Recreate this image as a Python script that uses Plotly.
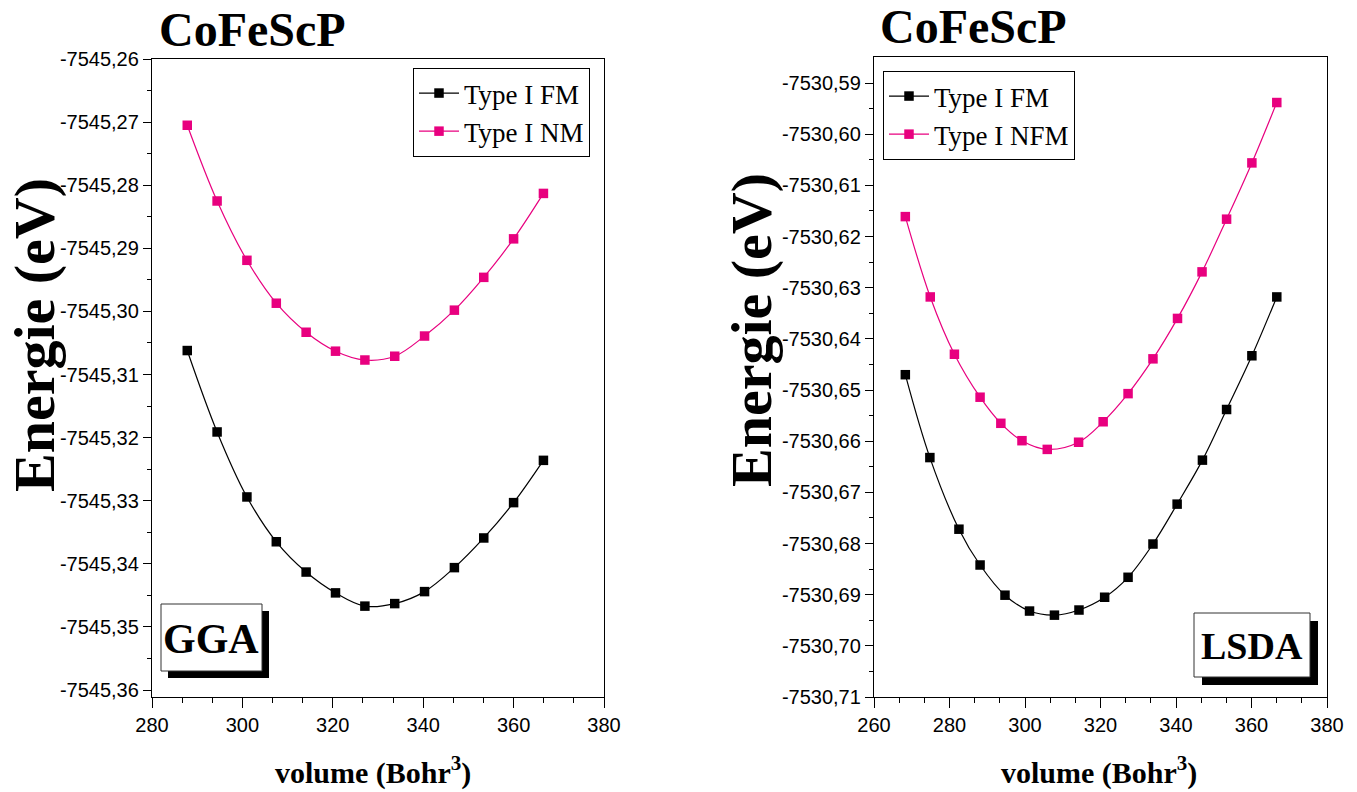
import numpy as np
import plotly.graph_objects as go

# ---------------- data ----------------
gga_volume = [287.8, 294.4, 301.0, 307.5, 314.1, 320.6, 327.1, 333.7, 340.3, 346.9, 353.4, 360.0, 366.6]
gga_fm = [-7545.3062, -7545.3191, -7545.3294, -7545.3365, -7545.3413, -7545.3446, -7545.3467,
          -7545.3463, -7545.3444, -7545.3406, -7545.3359, -7545.3303, -7545.3236]
gga_nm = [-7545.2705, -7545.2825, -7545.2919, -7545.2987, -7545.3033, -7545.3063, -7545.3077,
          -7545.3071, -7545.3039, -7545.2998, -7545.2946, -7545.2885, -7545.2813]

lsda_volume_fm = [268.3, 274.8, 282.5, 288.1, 294.7, 301.2, 307.8, 314.3, 321.1, 327.3, 333.9,
                  340.3, 347.0, 353.4, 360.1, 366.7]
lsda_fm = [-7530.6470, -7530.6632, -7530.6772, -7530.6842, -7530.6901, -7530.6932, -7530.6940,
           -7530.6930, -7530.6905, -7530.6866, -7530.6801, -7530.6723, -7530.6637, -7530.6538,
           -7530.6433, -7530.6318]
lsda_volume_nfm = [268.3, 274.9, 281.3, 288.1, 293.6, 299.2, 305.9, 314.2, 320.7, 327.3, 333.9,
                   340.4, 346.9, 353.4, 360.1, 366.7]
lsda_nfm = [-7530.6161, -7530.6318, -7530.6430, -7530.6514, -7530.6565, -7530.6599, -7530.6616,
            -7530.6602, -7530.6562, -7530.6507, -7530.6439, -7530.6360, -7530.6269, -7530.6166,
            -7530.6056, -7530.5938]

gga_yticks = [-7545.36, -7545.35, -7545.34, -7545.33, -7545.32, -7545.31, -7545.30, -7545.29,
              -7545.28, -7545.27, -7545.26]
gga_yticktext = ["-7545,36", "-7545,35", "-7545,34", "-7545,33", "-7545,32", "-7545,31",
                 "-7545,30", "-7545,29", "-7545,28", "-7545,27", "-7545,26"]
lsda_yticks = [-7530.71, -7530.70, -7530.69, -7530.68, -7530.67, -7530.66, -7530.65, -7530.64,
               -7530.63, -7530.62, -7530.61, -7530.60, -7530.59]
lsda_yticktext = ["-7530,71", "-7530,70", "-7530,69", "-7530,68", "-7530,67", "-7530,66",
                  "-7530,65", "-7530,64", "-7530,63", "-7530,62", "-7530,61", "-7530,60",
                  "-7530,59"]

# ---------------- styles ----------------
W, H = 1357, 792
BLACK = "#000000"
MAGENTA = "#E8007F"
SERIF = "Liberation Serif, Times New Roman, serif"
SANS = "Liberation Sans, Arial, sans-serif"


def px(x):
    return x / W


def py(y):
    return 1 - y / H


fig = go.Figure()


def add_series(x, y, name, color, xa, ya, legend):
    fig.add_trace(go.Scatter(
        x=x, y=y, name=name, mode="lines+markers",
        line=dict(color=color, width=1.2, shape="spline", smoothing=1.0),
        marker=dict(symbol="square", size=9.5, color=color),
        xaxis=xa, yaxis=ya, legend=legend))


add_series(gga_volume, gga_fm, "Type I FM", BLACK, "x", "y", "legend")
add_series(gga_volume, gga_nm, "Type I NM", MAGENTA, "x", "y", "legend")
add_series(lsda_volume_fm, lsda_fm, "Type I FM", BLACK, "x2", "y2", "legend2")
add_series(lsda_volume_nfm, lsda_nfm, "Type I NFM", MAGENTA, "x2", "y2", "legend2")

tickfont = dict(family=SANS, size=20, color="black")


def xaxis_cfg(domain, rng, anchor):
    return dict(domain=domain, range=rng, tickmode="linear", tick0=rng[0], dtick=20,
                ticks="outside", ticklen=10, tickwidth=1.2, tickcolor="black",
                showline=True, linecolor="black", linewidth=1.3, mirror=True,
                showgrid=False, zeroline=False, tickfont=tickfont, anchor=anchor,
                automargin=False,
                minor=dict(tick0=rng[0], dtick=20 / 3, ticks="outside", ticklen=5,
                           tickwidth=1.2, tickcolor="black", showgrid=False))


def yaxis_cfg(domain, rng, tv, tt, anchor):
    minor_vals = list(np.array(tv[:-1]) + 0.005)
    return dict(domain=domain, range=rng, tickmode="array", tickvals=tv, ticktext=tt,
                ticks="outside", ticklen=8, tickwidth=1.2, tickcolor="black",
                showline=True, linecolor="black", linewidth=1.3, mirror=True,
                showgrid=False, zeroline=False, tickfont=tickfont, anchor=anchor,
                automargin=False,
                minor=dict(tickmode="array", tickvals=minor_vals, ticks="outside",
                           ticklen=4, tickwidth=1.2, tickcolor="black", showgrid=False))


legend_common = dict(xanchor="left", yanchor="top", bordercolor="black", borderwidth=1,
                     bgcolor="white", font=dict(family=SERIF, size=27, color="black"),
                     tracegroupgap=0, itemwidth=40)

fig.update_layout(
    width=W, height=H, autosize=False,
    margin=dict(l=0, r=0, t=0, b=0, pad=0, autoexpand=False),
    paper_bgcolor="white", plot_bgcolor="white",
    xaxis=xaxis_cfg([px(152), px(604)], [280, 380], "y"),
    yaxis=yaxis_cfg([py(697), py(59)], [-7545.3611, -7545.26], gga_yticks, gga_yticktext, "x"),
    xaxis2=xaxis_cfg([px(874), px(1327)], [260, 380], "y2"),
    yaxis2=yaxis_cfg([py(697), py(57)], [-7530.71, -7530.5849], lsda_yticks, lsda_yticktext, "x2"),
    legend=dict(x=px(413), y=py(68), **legend_common),
    legend2=dict(x=px(883), y=py(71), **legend_common),
    showlegend=True,
)

# label boxes with drop shadow
shapes = []
for (x0, y0, x1, y1, d) in [(161, 604, 262, 671, 7), (1194, 613, 1310, 677, 8)]:
    shapes.append(dict(type="rect", xref="paper", yref="paper",
                       x0=px(x0 + d), x1=px(x1 + d), y0=py(y1 + d), y1=py(y0 + d),
                       fillcolor="black", line=dict(width=0)))
    shapes.append(dict(type="rect", xref="paper", yref="paper",
                       x0=px(x0), x1=px(x1), y0=py(y1), y1=py(y0),
                       fillcolor="white", line=dict(color="#333333", width=1)))
fig.update_layout(shapes=shapes)

ann = []


def text(x, y, s, size, angle=0, family=SERIF):
    ann.append(dict(x=px(x), y=py(y), xref="paper", yref="paper", text=s, showarrow=False,
                    textangle=angle, xanchor="center", yanchor="middle",
                    font=dict(family=family, size=size, color="black")))


text(252, 29, "<b>CoFeScP</b>", 48)
text(973, 27, "<b>CoFeScP</b>", 48)
text(34, 335, "<b>Energie (eV)</b>", 58, angle=-90)
text(751, 330, "<b>Energie (eV)</b>", 58, angle=-90)
text(373, 770, "<b>volume (Bohr<sup>3</sup>)</b>", 30)
text(1099, 770, "<b>volume (Bohr<sup>3</sup>)</b>", 30)
text(211, 639, "<b>GGA</b>", 42)
text(1252, 646, "<b>LSDA</b>", 38)
fig.update_layout(annotations=ann)

fig.write_html("out.html")
